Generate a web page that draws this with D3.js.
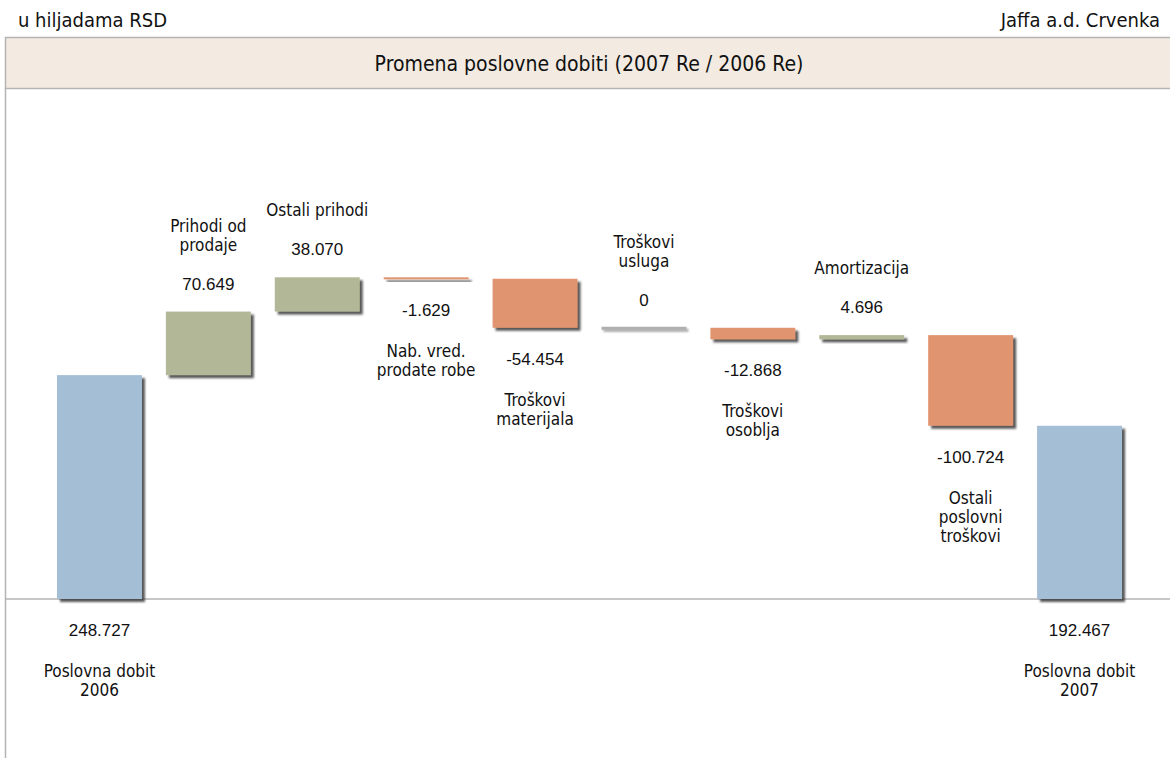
<!DOCTYPE html>
<html>
<head>
<meta charset="utf-8">
<script src="https://cdn.jsdelivr.net/npm/d3@7"></script>
<style>
  body { margin: 0; background: #fff; }
  svg { display: block; }
</style>
</head>
<body>
<div id="chart"></div>
<script>
// data (u hiljadama RSD)
var categories = [
  ["Poslovna dobit", "2006"],
  ["Prihodi od", "prodaje"],
  ["Ostali prihodi"],
  ["Nab. vred.", "prodate robe"],
  ["Troškovi", "materijala"],
  ["Troškovi", "usluga"],
  ["Troškovi", "osoblja"],
  ["Amortizacija"],
  ["Ostali", "poslovni", "troškovi"],
  ["Poslovna dobit", "2007"]
];
var values = [248.727, 70.649, 38.070, -1.629, -54.454, 0, -12.868, 4.696, -100.724, 192.467];
var valueLabels = ["248.727", "70.649", "38.070", "-1.629", "-54.454", "0", "-12.868", "4.696", "-100.724", "192.467"];
var kinds = ["total", "delta", "delta", "delta", "delta", "delta", "delta", "delta", "delta", "total"];

var svgWidth = 1170;
var svgHeight = 758;

var svg = d3.select("#chart")
  .append("svg")
  .attr("width", svgWidth)
  .attr("height", svgHeight);

var catFont = "'DejaVu Sans Condensed', 'DejaVu Sans', sans-serif";
var numFont = "'Liberation Sans', Arial, sans-serif";

// drop shadows for bars
var defs = svg.append("defs");
var f = defs.append("filter").attr("id", "shadow")
  .attr("x", "-10%").attr("y", "-10%").attr("width", "130%").attr("height", "200%");
f.append("feDropShadow")
  .attr("dx", 3).attr("dy", 3)
  .attr("stdDeviation", 0.9)
  .attr("flood-color", "#3a3a3a")
  .attr("flood-opacity", 0.85);

var f2 = defs.append("filter").attr("id", "shadowLight")
  .attr("x", "-10%").attr("y", "-100%").attr("width", "130%").attr("height", "400%");
f2.append("feDropShadow")
  .attr("dx", 2).attr("dy", 2)
  .attr("stdDeviation", 0.8)
  .attr("flood-color", "#9a9a9a")
  .attr("flood-opacity", 0.9);

// build waterfall rows
var running = 0;
var rows = values.map(function(v, i) {
  var start, end;
  if (kinds[i] == "total") {
    start = 0; end = v; running = v;
  } else {
    start = running; end = running + v; running = end;
  }
  return { i: i, v: v, start: start, end: end, kind: kinds[i], label: valueLabels[i], cat: categories[i] };
});

// scales
var x = d3.scaleBand()
  .domain(rows.map(d => d.i))
  .range([45, 1134])
  .paddingInner(0.22)
  .paddingOuter(0.11);

var y = d3.scaleLinear()
  .domain([0, 400])
  .range([599, 239]);

// header texts
svg.append("text")
  .attr("x", 18).attr("y", 27)
  .attr("font-family", catFont).attr("font-size", 20)
  .attr("fill", "#111")
  .text("u hiljadama RSD");

svg.append("text")
  .attr("x", 1160).attr("y", 27)
  .attr("text-anchor", "end")
  .attr("font-family", catFont).attr("font-size", 20)
  .attr("fill", "#111")
  .text("Jaffa a.d. Crvenka");

// title box
svg.append("rect")
  .attr("x", 5.5).attr("y", 37.5)
  .attr("width", 1170).attr("height", 51)
  .attr("fill", "#f3ebe1")
  .attr("stroke", "#b4b4b4")
  .attr("stroke-width", 1.5);

svg.append("text")
  .attr("x", 589).attr("y", 71)
  .attr("text-anchor", "middle")
  .attr("font-family", catFont).attr("font-size", 21)
  .attr("fill", "#111")
  .text("Promena poslovne dobiti (2007 Re / 2006 Re)");

// frame: left line and zero line
svg.append("line")
  .attr("x1", 5.5).attr("x2", 5.5)
  .attr("y1", 88).attr("y2", svgHeight)
  .attr("stroke", "#b4b4b4").attr("stroke-width", 1.5);

svg.append("line")
  .attr("x1", 5).attr("x2", svgWidth)
  .attr("y1", y(0)).attr("y2", y(0))
  .attr("stroke", "#b4b4b4").attr("stroke-width", 1.5);

function barColor(d) {
  if (d.kind == "total") return "#a4bed6";
  if (d.v > 0) return "#b2b897";
  if (d.v < 0) return "#e0946f";
  return "#b0b0b0";
}

// bars
svg.selectAll("rect.bar")
  .data(rows)
  .enter()
  .append("rect")
  .attr("class", "bar")
  .attr("x", d => x(d.i))
  .attr("width", x.bandwidth())
  .attr("y", d => Math.min(y(d.start), y(d.end)) - (d.v == 0 ? 1 : 0))
  .attr("height", d => Math.max(d.v == 0 ? 3 : 2, Math.abs(y(d.start) - y(d.end))))
  .attr("fill", barColor)
  .attr("filter", d => d.v == 0 ? "url(#shadowLight)" : "url(#shadow)");

// label placement: totals and negatives below, others above
function below(d) { return d.kind == "total" || d.v < 0; }

var labels = svg.selectAll("g.lab")
  .data(rows)
  .enter()
  .append("g")
  .attr("class", "lab");

labels.append("text")
  .attr("x", d => x(d.i) + x.bandwidth() / 2)
  .attr("y", function(d) {
    if (below(d)) return Math.max(y(d.start), y(d.end)) + 37;
    return Math.min(y(d.start), y(d.end)) - 22;
  })
  .attr("text-anchor", "middle")
  .attr("font-family", numFont).attr("font-size", 17)
  .attr("fill", "#111")
  .text(d => d.label);

labels.each(function(d) {
  var g = d3.select(this);
  var cx = x(d.i) + x.bandwidth() / 2;
  var n = d.cat.length;
  var base;
  if (below(d)) {
    base = Math.max(y(d.start), y(d.end)) + 37 + 41;
  } else {
    base = Math.min(y(d.start), y(d.end)) - 22 - 39 - (n - 1) * 19;
  }
  d.cat.forEach(function(line, k) {
    g.append("text")
      .attr("x", cx)
      .attr("y", base + k * 19)
      .attr("text-anchor", "middle")
      .attr("font-family", catFont).attr("font-size", 17)
      .attr("fill", "#111")
      .text(line);
  });
});
</script>
</body>
</html>
